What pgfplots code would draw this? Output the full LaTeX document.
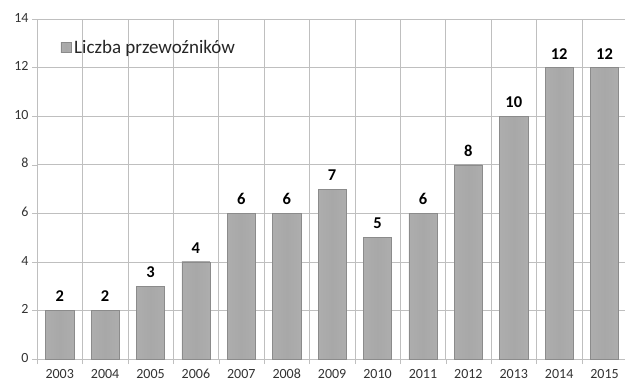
\documentclass[border=0pt]{standalone}
\usepackage{pgfplots}
\pgfplotsset{compat=1.18}
\usepackage{fontspec}
\setmainfont{Carlito}
\definecolor{bardark}{HTML}{6E6E6E}
\definecolor{barmid}{HTML}{A8A8A8}
\definecolor{barlight}{HTML}{B0B0B0}
\definecolor{gridc}{HTML}{BFBFBF}
\pgfdeclarehorizontalshading{barsh}{100bp}{color(0bp)=(bardark); color(12bp)=(barlight); color(50bp)=(barmid); color(88bp)=(barlight); color(100bp)=(bardark)}
\pgfplotsset{mybar/.style={draw=bardark!80, line width=0.4pt, shading=barsh}}
\newcommand{\onebar}[2]{\addplot[mybar, forget plot] coordinates {(#1,#2)};}
\begin{document}
\begin{tikzpicture}
\begin{axis}[
  scale only axis,
  width=588pt, height=340pt,
  xmin=-0.5, xmax=12.45,
  ymin=0, ymax=14,
  ytick={0,2,...,14},
  xtick={0,...,12},
  xticklabels={2003,2004,2005,2006,2007,2008,2009,2010,2011,2012,2013,2014,2015},
  minor xtick={-0.5,0.5,...,12.5},
  major x tick style={draw=none},
  minor x tick style={gridc},
  xminorgrids=true,
  ymajorgrids=true,
  grid style={gridc, line width=0.6pt},
  minor grid style={gridc, line width=0.6pt},
  axis lines=left,
  axis line style={gridc, -, line width=0.6pt},
  y tick style={gridc},
  tick align=outside,
  major tick length=5pt, minor tick length=5pt,
  tick label style={font=\fontsize{14}{16}\selectfont, text=black!80},
  typeset ticklabels with strut,
  /pgf/number format/assume math mode=true,
  ybar, bar width=0.62, bar shift=0pt,
  nodes near coords,
  every node near coord/.append style={font=\fontsize{16.5}{18}\selectfont\bfseries, text=black, yshift=5pt},
  legend style={draw=none, fill=none, at={(0.035,0.95)}, anchor=north west, font=\fontsize{19}{21}\selectfont, text=black!85},
  legend image code/.code={\draw[draw=bardark!80, shading=barsh] (0pt,-5pt) rectangle (10pt,5pt);},
  legend cell align=left,
]
\addlegendimage{mybar}
\addlegendentry{\hspace{1pt}Liczba przewoźników}
\onebar{0}{2}
\onebar{1}{2}
\onebar{2}{3}
\onebar{3}{4}
\onebar{4}{6}
\onebar{5}{6}
\onebar{6}{7}
\onebar{7}{5}
\onebar{8}{6}
\onebar{9}{8}
\onebar{10}{10}
\onebar{11}{12}
\onebar{12}{12}
\coordinate (bl) at (rel axis cs:0,0);
\coordinate (tr) at (rel axis cs:1,1);
\end{axis}
\pgfresetboundingbox
\path ([shift={(-37pt,-24pt)}]bl) rectangle ([shift={(0pt,19pt)}]tr);
\end{tikzpicture}
\end{document}
